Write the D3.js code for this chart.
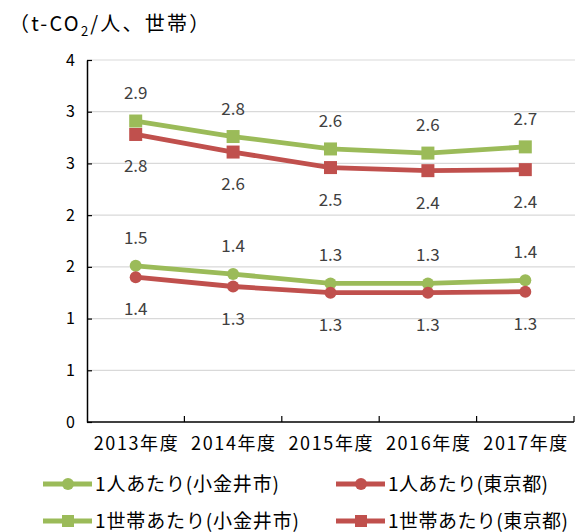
<!DOCTYPE html>
<html>
<head>
<meta charset="utf-8">
<script src="https://cdn.jsdelivr.net/npm/d3@7"></script>
<style>
  html, body { margin: 0; padding: 0; background: #fff; }
  svg { display: block; font-family: "Noto Sans CJK JP", "Noto Sans", sans-serif; }
</style>
</head>
<body>
<svg id="chart" width="579" height="532"></svg>
<script>
// Fiscal years on the x axis
const years = ["2013年度", "2014年度", "2015年度", "2016年度", "2017年度"];

// CO2 emissions from households (t-CO2)
const perPersonKoganei    = [1.51, 1.43, 1.34, 1.34, 1.37];
const perPersonTokyo      = [1.40, 1.31, 1.25, 1.25, 1.26];
const perHouseholdKoganei = [2.91, 2.76, 2.64, 2.60, 2.66];
const perHouseholdTokyo   = [2.78, 2.61, 2.46, 2.43, 2.44];

const yTicks = [0, 0.5, 1, 1.5, 2, 2.5, 3, 3.5];

const seriesNames = ["1人あたり(小金井市)", "1人あたり(東京都)", "1世帯あたり(小金井市)", "1世帯あたり(東京都)"];

const GREEN = "#9BBB59", RED = "#C0504D";

const series = [
  { name: seriesNames[0], values: perPersonKoganei,    color: GREEN, shape: "circle", labelPos: "above" },
  { name: seriesNames[1], values: perPersonTokyo,      color: RED,   shape: "circle", labelPos: "below" },
  { name: seriesNames[2], values: perHouseholdKoganei, color: GREEN, shape: "square", labelPos: "above" },
  { name: seriesNames[3], values: perHouseholdTokyo,   color: RED,   shape: "square", labelPos: "below" }
];

const svg = d3.select("#chart");
const plot = { left: 87, right: 574, top: 60, bottom: 422 };

const x = d3.scaleBand().domain(years).range([plot.left, plot.right]);
const y = d3.scaleLinear().domain([0, 3.5]).range([plot.bottom, plot.top]);

// Unit caption
svg.append("text")
  .attr("x", 9).attr("y", 31)
  .attr("font-size", 20).attr("fill", "#000")
  .attr("letter-spacing", 2.2)
  .call(t => {
    t.append("tspan").text("（t-CO");
    t.append("tspan").attr("font-size", 13).attr("dy", 5).text("2");
    t.append("tspan").attr("dy", -5).text("/人、世帯）");
  });

// Horizontal gridlines
svg.append("g").selectAll("line")
  .data(yTicks.filter(d => d > 0))
  .join("line")
  .attr("x1", plot.left).attr("x2", plot.right + 1)
  .attr("y1", d => y(d)).attr("y2", d => y(d))
  .attr("stroke", "#d9d9d9").attr("stroke-width", 1.2);

// Y axis with inward ticks; labels rounded to whole numbers
const yAxis = d3.axisLeft(y).tickValues(yTicks).tickSizeInner(-5).tickSizeOuter(0)
  .tickPadding(12).tickFormat(d => d3.format(".0f")(d + 1e-9));
const gy = svg.append("g").attr("transform", `translate(${plot.left},0)`).call(yAxis);
gy.select(".domain").attr("stroke", "#000").attr("stroke-width", 1.5);
gy.selectAll(".tick line").attr("stroke", "#000").attr("stroke-width", 1.2);
gy.selectAll(".tick text").attr("font-size", 16).attr("fill", "#000")
  .attr("font-family", "'Noto Sans CJK JP', sans-serif");

// X axis: ticks at category boundaries pointing up
const boundaries = years.map(d => x(d) + x.bandwidth());
svg.append("line")
  .attr("x1", plot.left).attr("x2", plot.right)
  .attr("y1", plot.bottom).attr("y2", plot.bottom)
  .attr("stroke", "#000").attr("stroke-width", 1.5);
svg.append("g").selectAll("line").data(boundaries).join("line")
  .attr("x1", d => d).attr("x2", d => d)
  .attr("y1", plot.bottom).attr("y2", plot.bottom - 6)
  .attr("stroke", "#000").attr("stroke-width", 1.2);
svg.append("g").selectAll("text").data(years).join("text")
  .attr("x", d => x(d) + x.bandwidth() / 2 - 42)
  .attr("y", 450)
  .attr("textLength", 84).attr("lengthAdjust", "spacing")
  .attr("font-size", 18).attr("font-weight", 400).attr("fill", "#000")
  .text(d => d);

const cx = d => x(d) + x.bandwidth() / 2;
const line = d3.line().x((v, i) => cx(years[i])).y(v => y(v));

function drawMarker(g, shape, color, px, py, size) {
  if (shape === "circle") {
    g.append("circle").attr("cx", px).attr("cy", py).attr("r", size / 2).attr("fill", color);
  } else {
    g.append("rect").attr("x", px - size / 2).attr("y", py - size / 2)
      .attr("width", size).attr("height", size).attr("fill", color);
  }
}

const fmt = d3.format(".1f");
series.forEach(s => {
  const g = svg.append("g");
  g.append("path").datum(s.values)
    .attr("d", line).attr("fill", "none")
    .attr("stroke", s.color).attr("stroke-width", 4.8).attr("stroke-linejoin", "round");
  s.values.forEach((v, i) => drawMarker(g, s.shape, s.color, cx(years[i]), y(v), s.shape === "circle" ? 12 : 13));
  g.selectAll("text.lbl").data(s.values).join("text")
    .attr("class", "lbl")
    .attr("x", (v, i) => cx(years[i]))
    .attr("y", v => s.labelPos === "above" ? y(v) - 22 : y(v) + 38)
    .attr("text-anchor", "middle")
    .attr("font-size", 17).attr("fill", "#404040")
    .text(v => fmt(v));
});

// Legend
const legendItems = [
  { s: series[0], lx: 43, ly: 484, w: 184 },
  { s: series[1], lx: 336, ly: 484, w: 160 },
  { s: series[2], lx: 43, ly: 521, w: 204 },
  { s: series[3], lx: 336, ly: 521, w: 180 }
];
legendItems.forEach(({ s, lx, ly, w }) => {
  const g = svg.append("g");
  g.append("line").attr("x1", lx).attr("x2", lx + 49).attr("y1", ly).attr("y2", ly)
    .attr("stroke", s.color).attr("stroke-width", 4.8);
  drawMarker(g, s.shape, s.color, lx + 25, ly, 12);
  g.append("text").attr("x", lx + 52).attr("y", ly + 7)
    .attr("textLength", w).attr("lengthAdjust", "spacing")
    .attr("font-size", 19).attr("fill", "#000").text(s.name);
});
</script>
</body>
</html>
